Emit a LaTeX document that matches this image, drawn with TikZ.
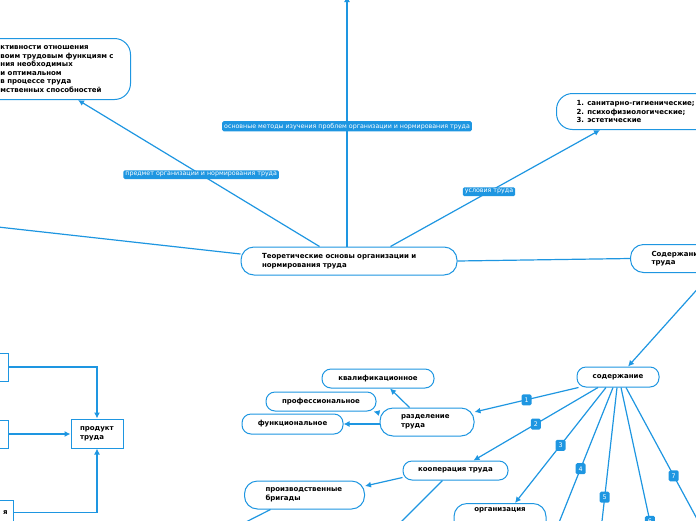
\documentclass[tikz,border=0pt]{standalone}
\usepackage{fontspec}
\setmainfont{DejaVu Sans}
\usetikzlibrary{arrows.meta,positioning}
\definecolor{mapblue}{RGB}{30,150,225}

\tikzset{
  topic/.style={draw=mapblue,line width=1pt,fill=white,rounded corners=9pt,
    font=\fontsize{7}{8.6}\selectfont\bfseries,align=left},
  plainbox/.style={draw=mapblue,line width=1pt,fill=white,
    font=\fontsize{7}{8.6}\selectfont\bfseries,align=left},
  tag/.style={fill=mapblue,text=white,rounded corners=1.5pt,inner sep=2pt,
    font=\fontsize{6.3}{7}\selectfont},
  numtag/.style={tag,minimum width=10pt,minimum height=11pt,inner sep=1pt},
  link/.style={draw=mapblue,line width=1.2pt},
  arr/.style={link,-{Latex[length=6pt,width=6pt]}}
}

\begin{document}
\begin{tikzpicture}[x=1pt,y=-1pt]
\useasboundingbox (0,0) rectangle (696,520);
\clip (0,0) rectangle (696,520);

%Central topic
\node[topic,rounded corners=13pt,minimum height=28pt,inner xsep=21pt,text width=174pt] (theory) at (349,261) {Теоретические основы организации и\\нормирования труда};

% Upper topics
\node[topic,anchor=north east,rounded corners=16pt,minimum height=61pt,inner xsep=17pt,text width=113pt] (subject) at (131,38) {ктивности отношения\\воим трудовым функциям с\\ния необходимых\\и оптимальном\\в процессе труда\\мственных способностей};
\node[topic,anchor=north west,rounded corners=16pt,minimum height=36pt,inner xsep=20pt] (conditions) at (556,93) {1. санитарно-гигиенические;\\2. психофизиологические;\\3. эстетические};
\node[topic,anchor=north west,rounded corners=13pt,minimum height=28pt,inner xsep=21pt,text width=80pt] (labourcontent) at (630,244) {Содержание\\труда};
\coordinate (upend) at (347,-4);
\coordinate (leftend) at (-2,227);
\coordinate (rightend) at (702,284);

% Branches of the central topic
\draw[arr] ([xshift=79pt]theory.north west) -- ([xshift=-53pt]subject.south east) node[tag,pos=0.49] {предмет организации и нормирования труда};
\draw[arr] ([xshift=-2pt]theory.north) -- (upend) node[tag,pos=0.48] {основные методы изучения проблем организации и нормирования труда};
\draw[arr] ([xshift=-67pt]theory.north east) -- ([xshift=44pt]conditions.south west) node[tag,pos=0.47] {условия труда};
\draw[link] ([yshift=7pt]theory.west) -- (leftend);
\draw[link] (theory.east) -- (labourcontent.west);

% Content and its parts
\node[topic,minimum width=82pt,minimum height=20pt] (content) at (618,377) {содержание};
\node[topic,rounded corners=13pt,minimum height=28pt,inner xsep=21pt,text width=52pt] (division) at (427,422) {разделение\\труда};
\node[topic,minimum width=112pt,minimum height=19pt] (qualif) at (378,378.5) {квалификационное};
\node[topic,minimum width=110pt,minimum height=19pt] (prof) at (321,401.5) {профессиональное};
\node[topic,minimum width=101pt,minimum height=20pt] (func) at (292.5,424) {функциональное};
\node[topic,minimum width=105pt,minimum height=19pt] (coop) at (455.5,470.5) {кооперация труда};
\node[topic,rounded corners=13pt,minimum height=28pt,inner xsep=21pt,text width=78pt] (brigades) at (304.5,495) {производственные\\бригады};
\node[topic,anchor=north,rounded corners=13pt,minimum width=92pt,inner ysep=4pt,text depth=22pt,align=center] (organis) at (500,503) {организация};
\coordinate (endfour) at (556,530);
\coordinate (endfive) at (601,530);
\coordinate (endsix) at (655,545);
\coordinate (endseven) at (703,530);
\coordinate (endcoop) at (398,525);
\coordinate (endbrig) at (240,525);

\draw[arr] (rightend) -- ([xshift=10pt]content.north);
\draw[arr] ([xshift=2pt]content.south west) -- ([yshift=10pt]division.east) node[numtag,pos=0.5] {1};
\draw[arr] ([xshift=-20pt]content.south) -- ([xshift=18pt]coop.north) node[numtag,pos=0.5] {2};
\draw[arr] ([xshift=-12pt]content.south) -- ([xshift=15pt]organis.north) node[numtag,pos=0.5] {3};
\draw[link] ([xshift=-5pt]content.south) -- (endfour) node[numtag,pos=0.57] {4};
\draw[link] ([xshift=-1pt]content.south) -- (endfive) node[numtag,pos=0.77] {5};
\draw[link] ([xshift=3pt]content.south) -- (endsix) node[numtag,pos=0.85] {6};
\draw[link] ([xshift=8pt]content.south) -- (endseven) node[numtag,pos=0.62] {7};

% Division of labour
\draw[arr] ([xshift=30pt]division.north west) -- ([xshift=12pt]qualif.south);
\draw[arr] ([yshift=9pt]division.west) -- ([xshift=-3pt]prof.south east);
\draw[arr] (division.west |- func.east) -- (func.east);

% Cooperation of labour
\draw[arr] ([yshift=-7pt]coop.west) -- ([yshift=9pt]brigades.east);
\draw[link] ([xshift=-13pt]coop.south) -- (endcoop);
\draw[link] ([xshift=-34pt]brigades.south) -- (endbrig);

% Product of labour
\node[plainbox,inner xsep=9pt,text width=34pt,minimum height=29pt] (product) at (97,433.5) {продукт\\труда};
\node[plainbox,anchor=east,minimum width=60pt,minimum height=28pt] (srca) at (9,367) {};
\node[plainbox,anchor=east,minimum width=60pt,minimum height=28pt] (srcb) at (9,434) {};
\node[plainbox,anchor=north east,inner xsep=6pt,text width=46pt,align=right,minimum height=24pt] (srcc) at (14,500) {я};
\draw[arr] (srca.east) -| (product.north);
\draw[arr] (srcb.east) -- (srcb.east -| product.west);
\draw[arr] (srcc.east) -| (product.south);

\end{tikzpicture}
\end{document}
